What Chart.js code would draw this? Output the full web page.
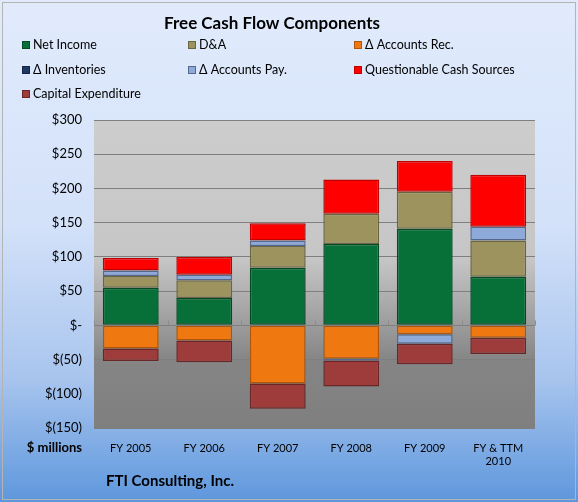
<!DOCTYPE html>
<html><head><meta charset="utf-8">
<script src="https://cdn.jsdelivr.net/npm/chart.js@4/dist/chart.umd.min.js"></script>
<style>html,body{margin:0;padding:0;background:#fff}#w{width:578px;height:502px}</style>
</head><body><div id="w"><canvas id="c" width="578" height="502"></canvas></div>
<script>
const categories = [["FY 2005"],["FY 2006"],["FY 2007"],["FY 2008"],["FY 2009"],["FY & TTM","2010"]];
const netIncome   = [55, 40, 84, 119, 141, 71];
const dAndA       = [17, 26, 32, 44, 54, 53];
const accountsRec = [-34, -22, -85, -49, -13, -18];
const inventories = [0, 0, 0, 0, 0, 0];
const accountsPay = [8, 8, 8, -2.5, -14, 20];
const questionable= [18.5, 26, 25, 50, 45, 76];
const capex       = [-18, -32, -37, -38, -30, -24];
const yTicks = [300,250,200,150,100,50,0,-50,-100,-150];
const title = "Free Cash Flow Components";
const footer = "FTI Consulting, Inc.";
const unitLabel = "$ millions";

const FONT = "Lato, 'Open Sans', sans-serif";
function fmt(v){ if(v===0) return "$-"; if(v<0) return "$("+(-v)+")"; return "$"+v; }

const ds = (label, data, bg, bd) => ({label, data, backgroundColor: bg, borderColor: bd, borderWidth: 1.5, borderSkipped:false, stack:'s'});

const bgPlugin = {
  id:'bg',
  beforeDraw(chart){
    const ctx = chart.ctx, W = chart.width, H = chart.height, a = chart.chartArea;
    ctx.save();
    let g = ctx.createLinearGradient(0,0,0,H);
    g.addColorStop(0,'#e1ebfc'); g.addColorStop(0.45,'#d3e1f9'); g.addColorStop(0.75,'#a9c5ee'); g.addColorStop(1,'#5e97dd');
    ctx.fillStyle = g; ctx.fillRect(0,0,W,H);
    ctx.strokeStyle = '#b4b4b4'; ctx.lineWidth = 1; ctx.strokeRect(2.5,2.5,W-5,H-5);
    g = ctx.createLinearGradient(0,a.top,0,a.bottom);
    g.addColorStop(0,'#cdcdcd'); g.addColorStop(0.45,'#c6c6c6'); g.addColorStop(0.6,'#a9a9a9'); g.addColorStop(0.78,'#858585'); g.addColorStop(1,'#7f7f7f');
    ctx.fillStyle = g; ctx.fillRect(a.left,a.top,a.right-a.left,a.bottom-a.top);
    ctx.restore();
  },
  afterDatasetsDraw(chart){
    const ctx = chart.ctx, a = chart.chartArea, x = chart.scales.x, y = chart.scales.y;
    const y0 = Math.round(y.getPixelForValue(0))+0.5;
    ctx.save(); ctx.strokeStyle='#8c8c8c'; ctx.lineWidth=1;
    for(let i=0;i<=categories.length;i++){
      const px = Math.round(a.left + (a.right-a.left)*i/categories.length)+0.5;
      ctx.beginPath(); ctx.moveTo(px,y0); ctx.lineTo(px,y0-5); ctx.stroke();
    }
    ctx.restore();
  },
  afterDraw(chart){
    const ctx = chart.ctx;
    ctx.save();
    ctx.fillStyle='#000'; ctx.textBaseline='middle';
    ctx.font = "bold 17px "+FONT; ctx.textAlign='center';
    ctx.fillText(title, 272, 24);
    ctx.font = "bold 15px "+FONT; ctx.textAlign='left';
    ctx.fillText(footer, 106, 481);
    ctx.font = "bold 13px "+FONT; ctx.textAlign='right';
    ctx.fillText(unitLabel, 82, 448);
    // legend
    const cols=[22,188,354], rows=[45,70,94];
    ctx.font = "12.5px "+FONT; ctx.textAlign='left';
    chart.data.datasets.forEach((d,i)=>{
      const cx = cols[i%3], cy = rows[Math.floor(i/3)];
      ctx.fillStyle=d.backgroundColor; ctx.fillRect(cx,cy-4,8,8);
      ctx.strokeStyle=d.borderColor; ctx.lineWidth=1; ctx.strokeRect(cx+0.5,cy-3.5,7,7);
      ctx.fillStyle='#000'; ctx.fillText(d.label, cx+11, cy);
    });
    ctx.restore();
  }
};

new Chart(document.getElementById('c'), {
  type:'bar',
  data:{ labels: categories, datasets:[
    ds('Net Income', netIncome, '#067038', '#034a25'),
    ds('D&A', dAndA, '#9c935e', '#6a6440'),
    ds('\u0394 Accounts Rec.', accountsRec, '#f07810', '#b0560a'),
    ds('\u0394 Inventories', inventories, '#1f3864', '#142545'),
    ds('\u0394 Accounts Pay.', accountsPay, '#8eaadb', '#55698f'),
    ds('Questionable Cash Sources', questionable, '#ff0000', '#c00000'),
    ds('Capital Expenditure', capex, '#9e3b3b', '#6a2626'),
  ]},
  options:{
    responsive:false, animation:false, devicePixelRatio:1,
    layout:{padding:{left:0,right:43,top:120,bottom:0}},
    datasets:{bar:{categoryPercentage:1, barPercentage:0.76}},
    plugins:{legend:{display:false}, tooltip:{enabled:false}, title:{display:false}},
    scales:{
      x:{ stacked:true, grid:{display:false}, border:{display:false},
          ticks:{color:'#000', font:{family:FONT,size:11}, padding:6, maxRotation:0},
          afterFit(s){ s.height = 74; } },
      y:{ stacked:true, min:-150, max:300,
          afterBuildTicks(s){ s.ticks = yTicks.map(v=>({value:v})); },
          grid:{color:'#7f7f7f', lineWidth:1, drawTicks:false}, border:{display:false},
          ticks:{color:'#000', font:{family:FONT,size:13}, padding:12, callback:(v)=>fmt(v)},
          afterFit(s){ s.width = 94; } }
    }
  },
  plugins:[bgPlugin]
});
</script></body></html>
